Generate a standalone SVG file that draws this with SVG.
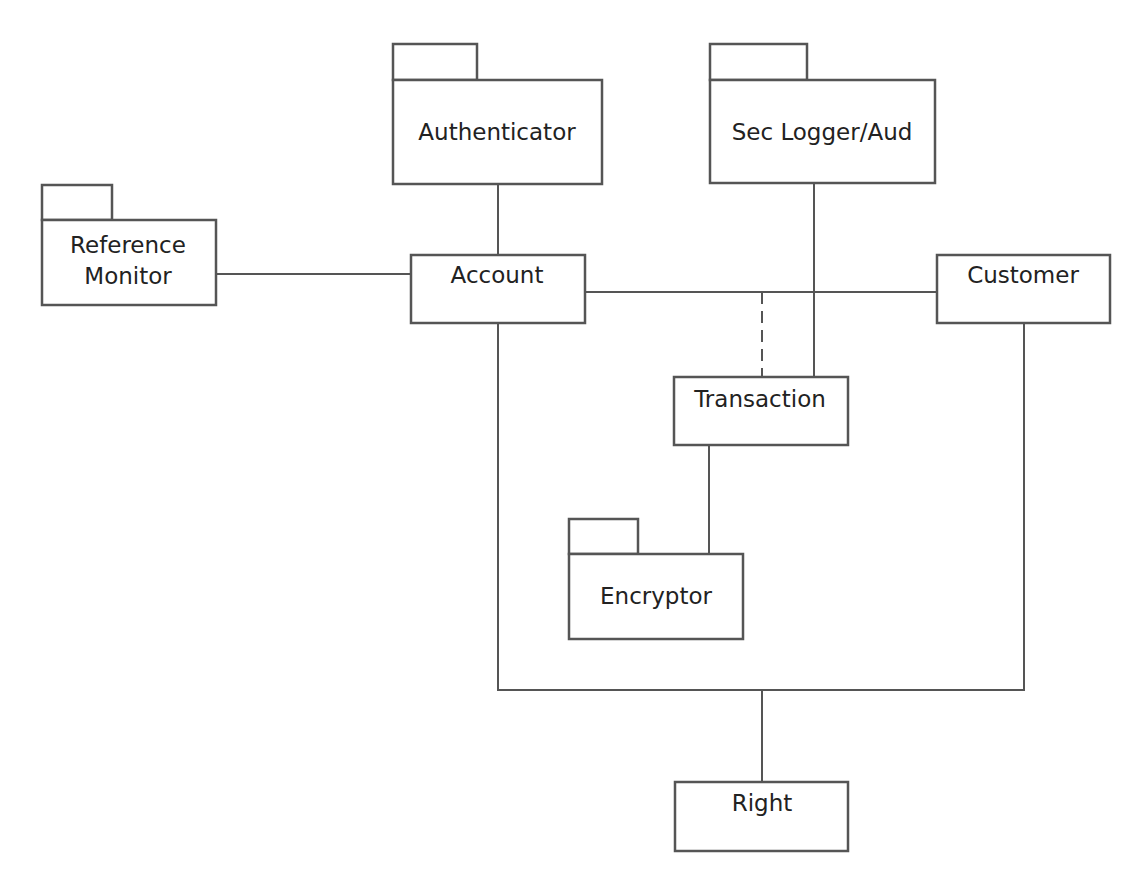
<svg xmlns="http://www.w3.org/2000/svg" width="1135" height="880" viewBox="0 0 1135 880">
<style>
.box{fill:#fff;stroke:#555;stroke-width:2.5}
.ln{fill:none;stroke:#555;stroke-width:2}
.dash{fill:none;stroke:#555;stroke-width:2;stroke-dasharray:12 7}
.t{font-family:"DejaVu Sans","Liberation Sans",sans-serif;font-size:23px;fill:#222;text-anchor:middle}
</style>
<rect width="1135" height="880" fill="#fff"/>
<g id="connectors">
<line class="ln" x1="498" y1="184" x2="498" y2="255"/>
<line class="ln" x1="216" y1="274" x2="411" y2="274"/>
<line class="ln" x1="585" y1="292" x2="937" y2="292"/>
<line class="dash" x1="762" y1="292" x2="762" y2="377"/>
<line class="ln" x1="814" y1="183" x2="814" y2="377"/>
<line class="ln" x1="709" y1="445" x2="709" y2="554"/>
<polyline class="ln" points="498,323 498,690 1024,690 1024,323"/>
<line class="ln" x1="762" y1="690" x2="762" y2="782"/>
</g>
<g id="authenticator">
<rect class="box" x="393" y="44" width="84" height="36"/>
<rect class="box" x="393" y="80" width="209" height="104"/>
<text class="t" x="497" y="140">Authenticator</text>
</g>
<g id="seclogger">
<rect class="box" x="710" y="44" width="97" height="36"/>
<rect class="box" x="710" y="80" width="225" height="103"/>
<text class="t" x="822" y="140">Sec Logger/Aud</text>
</g>
<g id="refmonitor">
<rect class="box" x="42" y="185" width="70" height="35"/>
<rect class="box" x="42" y="220" width="174" height="85"/>
<text class="t" x="128" y="253">Reference</text>
<text class="t" x="128" y="284">Monitor</text>
</g>
<g id="account">
<rect class="box" x="411" y="255" width="174" height="68"/>
<text class="t" x="497" y="283">Account</text>
</g>
<g id="customer">
<rect class="box" x="937" y="255" width="173" height="68"/>
<text class="t" x="1023" y="283">Customer</text>
</g>
<g id="transaction">
<rect class="box" x="674" y="377" width="174" height="68"/>
<text class="t" x="760" y="407">Transaction</text>
</g>
<g id="encryptor">
<rect class="box" x="569" y="519" width="69" height="35"/>
<rect class="box" x="569" y="554" width="174" height="85"/>
<text class="t" x="656" y="604">Encryptor</text>
</g>
<g id="right">
<rect class="box" x="675" y="782" width="173" height="69"/>
<text class="t" x="762" y="811">Right</text>
</g>
</svg>
